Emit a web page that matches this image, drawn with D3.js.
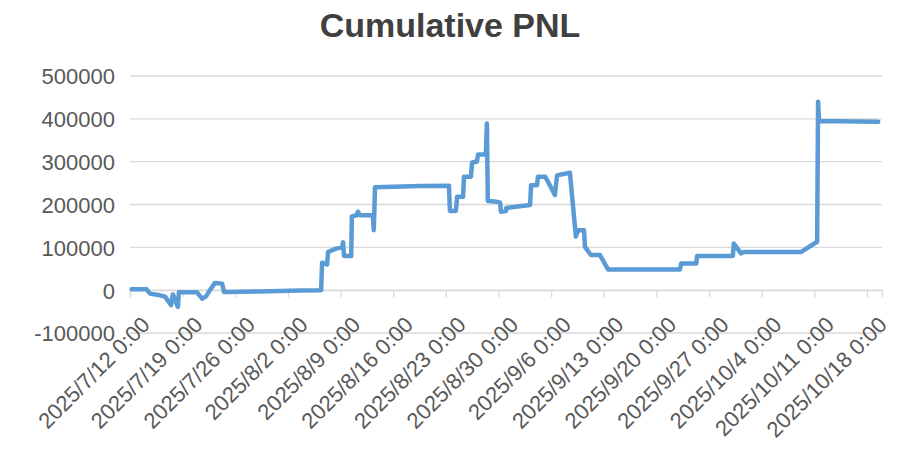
<!DOCTYPE html>
<html>
<head>
<meta charset="utf-8">
<script src="https://cdn.jsdelivr.net/npm/d3@7"></script>
<style>
  html, body { margin: 0; padding: 0; background: #ffffff; }
  svg { display: block; }
</style>
</head>
<body>
<svg id="chart" width="898" height="454"></svg>
<script>
const chartTitle = "Cumulative PNL";

const dates = [
  "2025-07-12 05:00","2025-07-14 05:00","2025-07-14 16:00","2025-07-16 00:00","2025-07-16 16:00",
  "2025-07-17 11:00","2025-07-17 17:00","2025-07-18 09:00","2025-07-18 12:00","2025-07-20 22:00",
  "2025-07-21 14:00","2025-07-22 02:00","2025-07-22 15:00","2025-07-23 07:00","2025-07-24 06:00",
  "2025-07-24 12:00","2025-07-29 07:00","2025-08-03 14:00","2025-08-06 10:00","2025-08-06 13:00",
  "2025-08-07 05:00","2025-08-07 08:00","2025-08-08 10:00","2025-08-09 05:00","2025-08-09 08:00",
  "2025-08-09 11:00","2025-08-10 10:00","2025-08-10 12:00","2025-08-11 04:00","2025-08-11 07:00",
  "2025-08-11 14:00","2025-08-13 07:00","2025-08-13 10:00","2025-08-13 14:00","2025-08-19 14:00",
  "2025-08-23 10:00","2025-08-23 13:00","2025-08-24 08:00","2025-08-24 12:00","2025-08-25 07:00",
  "2025-08-25 10:00","2025-08-26 08:00","2025-08-26 12:00","2025-08-27 03:00","2025-08-27 07:00",
  "2025-08-28 05:00","2025-08-28 08:00","2025-08-28 11:00","2025-08-28 14:00","2025-08-29 12:00",
  "2025-08-30 05:00","2025-08-30 08:00","2025-08-31 00:00","2025-08-31 01:00","2025-08-31 12:00",
  "2025-09-03 05:00","2025-09-03 08:00","2025-09-04 03:00","2025-09-04 06:00","2025-09-05 05:00",
  "2025-09-05 20:00","2025-09-06 12:00","2025-09-06 19:00","2025-09-08 12:00","2025-09-09 07:00",
  "2025-09-09 14:00","2025-09-10 09:00","2025-09-10 12:00","2025-09-11 07:00","2025-09-12 12:00",
  "2025-09-13 14:00","2025-09-23 03:00","2025-09-23 07:00","2025-09-25 07:00","2025-09-25 10:00",
  "2025-09-30 04:00","2025-09-30 07:00","2025-10-01 06:00","2025-10-01 15:00","2025-10-09 05:00",
  "2025-10-11 09:00","2025-10-11 12:00","2025-10-11 15:00","2025-10-19 12:00"
];

const pnl = [
  2000, 2000, -8000, -12000, -15000,
  -35000, -10000, -39000, -5000, -5000,
  -20000, -15000, 0, 17000, 15000,
  -4000, -3000, -1000, 0, 64000,
  60000, 89000, 97000, 100000, 112000,
  80000, 80000, 172000, 175000, 183000,
  175000, 175000, 140000, 240000, 243000,
  244000, 185000, 185000, 218000, 218000,
  265000, 265000, 298000, 300000, 317000,
  317000, 320000, 389000, 208000, 207000,
  205000, 183000, 185000, 192000, 193000,
  199000, 245000, 245000, 265000, 265000,
  245000, 222000, 268000, 274000, 125000,
  140000, 140000, 101000, 82000, 82000,
  48000, 48000, 62000, 62000, 80000,
  80000, 109000, 86000, 89000, 89000,
  113000, 440000, 395000, 393000
];

const xTickDates = [
  "2025-07-12 00:00","2025-07-19 00:00","2025-07-26 00:00","2025-08-02 00:00","2025-08-09 00:00",
  "2025-08-16 00:00","2025-08-23 00:00","2025-08-30 00:00","2025-09-06 00:00","2025-09-13 00:00",
  "2025-09-20 00:00","2025-09-27 00:00","2025-10-04 00:00","2025-10-11 00:00","2025-10-18 00:00"
];
const xTickLabels = [
  "2025/7/12 0:00","2025/7/19 0:00","2025/7/26 0:00","2025/8/2 0:00","2025/8/9 0:00",
  "2025/8/16 0:00","2025/8/23 0:00","2025/8/30 0:00","2025/9/6 0:00","2025/9/13 0:00",
  "2025/9/20 0:00","2025/9/27 0:00","2025/10/4 0:00","2025/10/11 0:00","2025/10/18 0:00"
];
const yTicks = [-100000, 0, 100000, 200000, 300000, 400000, 500000];
const yTickLabels = ["-100000", "0", "100000", "200000", "300000", "400000", "500000"];
const xDomain = ["2025-07-12 00:00", "2025-10-20 00:00"];

const parse = d3.timeParse("%Y-%m-%d %H:%M");
const data = dates.map((d, i) => ({ t: parse(d), v: pnl[i] }));
const tickDates = xTickDates.map(parse);

const svg = d3.select("#chart");
const plot = { left: 130, right: 882, top: 76, bottom: 333 };
const textColor = "#595959";
const gridColor = "#d9d9d9";
const font = "'Liberation Sans', Arial, Helvetica, sans-serif";

const x = d3.scaleTime().domain(xDomain.map(parse)).range([plot.left, plot.right]);
const y = d3.scaleLinear().domain([-100000, 500000]).range([plot.bottom, plot.top]);

// Title
svg.append("text")
  .attr("x", 450).attr("y", 37)
  .attr("text-anchor", "middle")
  .attr("font-family", font)
  .attr("font-weight", "bold")
  .attr("font-size", 34)
  .attr("fill", "#404040")
  .text(chartTitle);

// Gridlines
svg.append("g").selectAll("line").data(yTicks).join("line")
  .attr("x1", plot.left).attr("x2", plot.right)
  .attr("y1", d => y(d)).attr("y2", d => y(d))
  .attr("stroke", gridColor).attr("stroke-width", 1.3);

// Y axis labels
const yAxis = d3.axisLeft(y).tickValues(yTicks).tickSize(0).tickPadding(0)
  .tickFormat((d, i) => yTickLabels[i]);
const yg = svg.append("g").attr("transform", `translate(115,0)`).call(yAxis);
yg.select(".domain").remove();
yg.selectAll("text")
  .attr("font-family", font).attr("font-size", 22).attr("fill", textColor)
  .attr("dy", "0.36em");

// X axis at zero line with ticks
const xAxis = d3.axisBottom(x).tickValues(tickDates).tickSize(7).tickFormat("");
const xg = svg.append("g").attr("transform", `translate(0,${y(0)})`).call(xAxis);
xg.select(".domain").attr("stroke", gridColor).attr("stroke-width", 1.3);
xg.selectAll(".tick line").attr("stroke", gridColor).attr("stroke-width", 1.3);

// X tick labels rotated
svg.append("g").selectAll("text").data(tickDates).join("text")
  .attr("transform", (d) => `translate(${x(d) + 10},315) rotate(-45)`)
  .attr("text-anchor", "end")
  .attr("dy", "0.72em")
  .attr("font-family", font).attr("font-size", 22).attr("fill", textColor)
  .text((d, i) => xTickLabels[i]);

// Line
const line = d3.line().x(d => x(d.t)).y(d => y(d.v));
svg.append("path")
  .datum(data)
  .attr("d", line)
  .attr("fill", "none")
  .attr("stroke", "#5b9bd5")
  .attr("stroke-width", 4.5)
  .attr("stroke-linejoin", "round")
  .attr("stroke-linecap", "round");
</script>
</body>
</html>
